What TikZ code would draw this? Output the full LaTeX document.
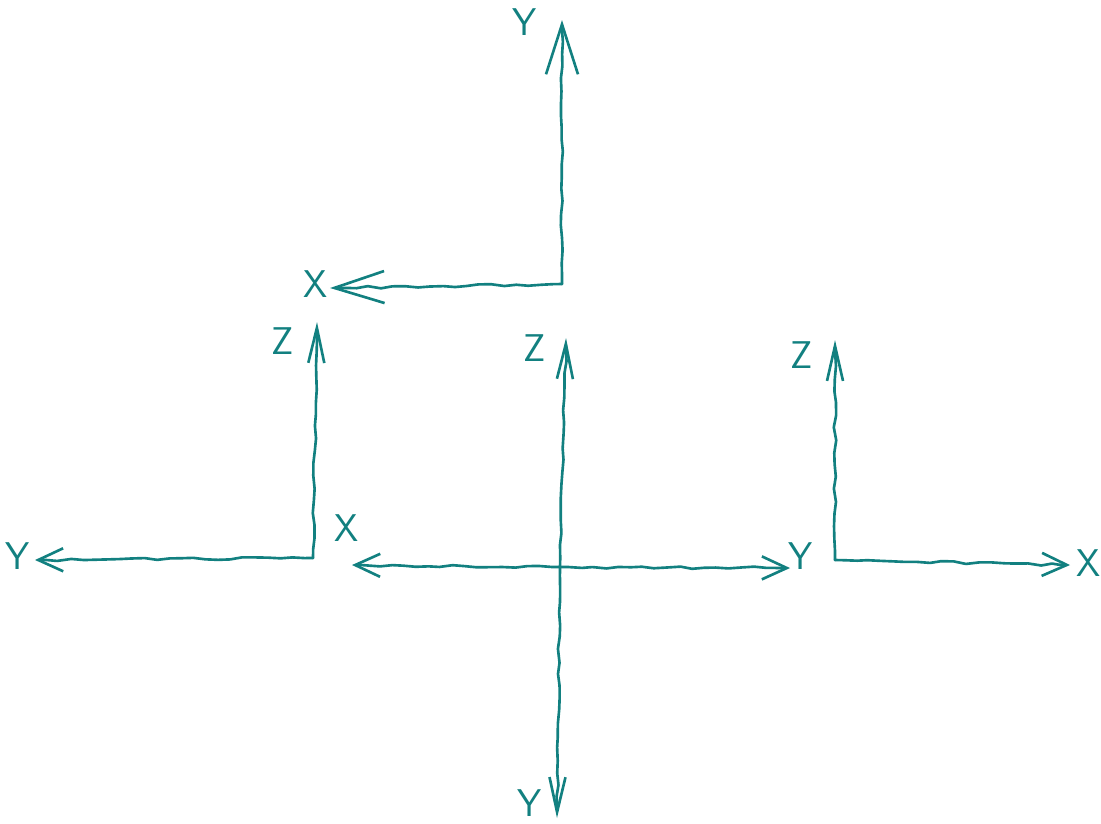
\documentclass[tikz,border=0pt]{standalone}
\usetikzlibrary{arrows.meta,decorations.pathmorphing}
\definecolor{inkteal}{RGB}{18,128,128}

\begin{document}
\begin{tikzpicture}[
  x=0.02cm,y=-0.02cm,
  ink/.style={draw=inkteal,line width=1.5pt,line cap=round,line join=round,decorate,
    decoration={random steps,segment length=7pt,amplitude=0.7pt,pre length=5pt,post length=6pt}},
  axis/.style={ink,-{Straight Barb[length=5mm,width=4.6mm]}},
  longaxis/.style={ink,-{Straight Barb[length=1cm,width=6.4mm]}},
  upaxis/.style={ink,-{Straight Barb[length=7mm,width=3.2mm]}},
  lbl/.style={text=inkteal,font=\sffamily\fontsize{22}{22}\selectfont,inner sep=0pt}
]
\pgfmathsetseed{7}
\useasboundingbox (0,0) rectangle (1101,823);

% top frame
\coordinate (o1) at (562,284);
\coordinate (y1) at (562,20);
\coordinate (x1) at (330,288);
\draw[longaxis] (o1) -- (y1);
\draw[longaxis] (o1) -- (x1);
\node[lbl] (ly1) at (525,22) {Y};
\node[lbl] (lx1) at (316,284) {X};

% left frame
\coordinate (o2) at (313,558);
\coordinate (z2) at (317,322);
\coordinate (y2) at (35,560);
\draw[upaxis] (o2) -- (z2);
\draw[axis] (o2) -- (y2);
\node[lbl] (lz2) at (283,341) {Z};
\node[lbl] (ly2) at (18,556) {Y};

% centre frame
\coordinate (o3) at (560,567);
\coordinate (z3) at (566,338);
\coordinate (x3) at (352,565);
\coordinate (y3) at (790,568);
\coordinate (w3) at (557,818);
\draw[upaxis] (o3) -- (z3);
\draw[axis] (o3) -- (x3);
\draw[axis] (o3) -- (y3);
\draw[upaxis] (o3) -- (w3);
\node[lbl] (lz3) at (535,348) {Z};
\node[lbl] (lx3) at (347,528) {X};
\node[lbl] (ly3) at (801,556) {Y};
\node[lbl] (lw3) at (530,803) {Y};

% right frame
\coordinate (o4) at (835,560);
\coordinate (z4) at (835,340);
\coordinate (x4) at (1070,565);
\draw[upaxis] (o4) -- (z4);
\draw[axis] (o4) -- (x4);
\node[lbl] (lz4) at (802,355) {Z};
\node[lbl] (lx4) at (1089,563) {X};
\end{tikzpicture}
\end{document}
